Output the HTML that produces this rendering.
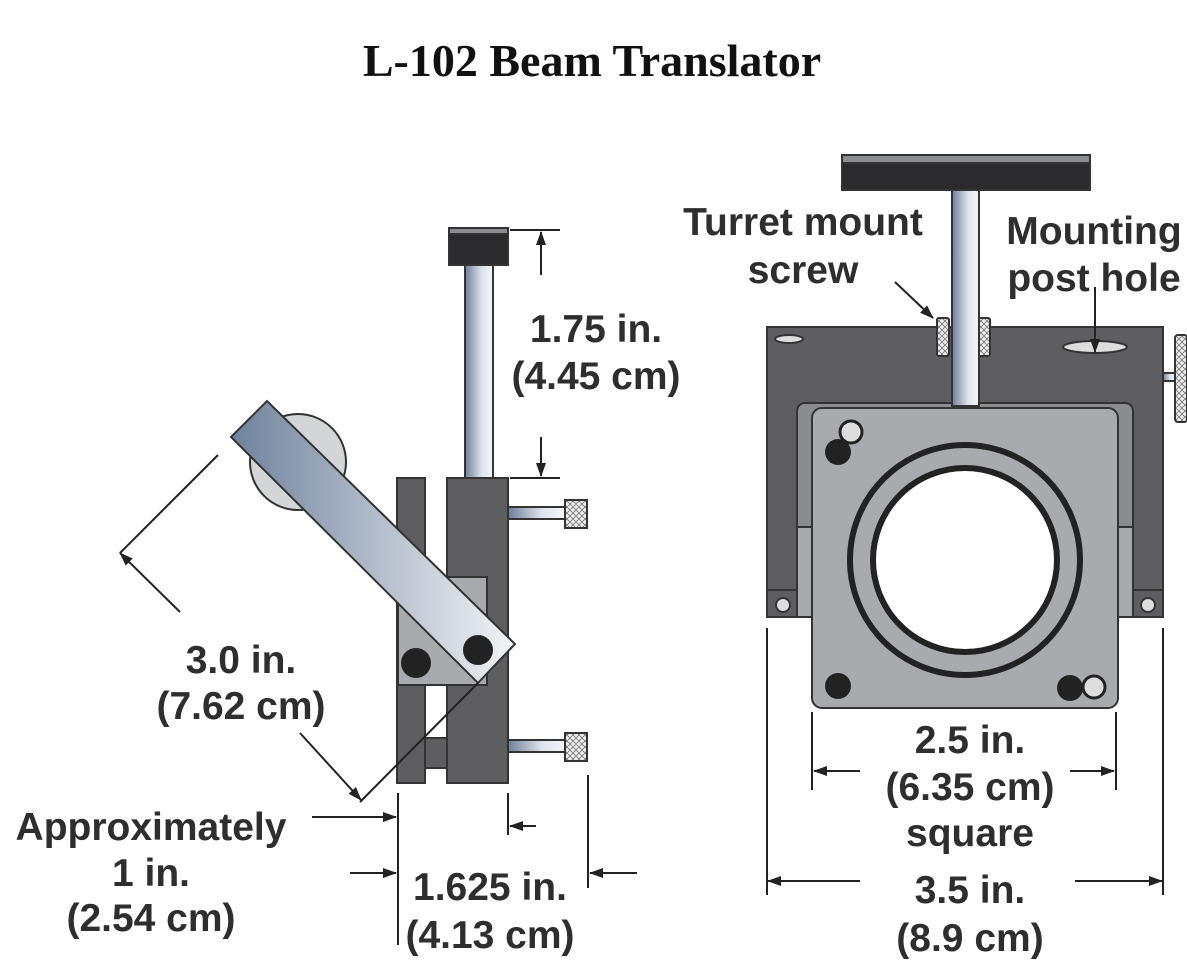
<!DOCTYPE html>
<html><head><meta charset="utf-8"><style>
html,body{margin:0;padding:0;background:#fff;}
svg{display:block;}
.t{font-family:"Liberation Sans",sans-serif;font-weight:bold;font-size:39px;fill:#2e2e2e;text-anchor:middle;}
</style></head><body>
<svg width="1187" height="974" viewBox="0 0 1187 974" xmlns="http://www.w3.org/2000/svg">
<defs>
<linearGradient id="post" x1="0" x2="1" y1="0" y2="0"><stop offset="0" stop-color="#6d7f9a"/><stop offset="0.6" stop-color="#dfe4ec"/><stop offset="1" stop-color="#f4f6f8"/></linearGradient>
<linearGradient id="arm" x1="0" x2="1" y1="0" y2="0"><stop offset="0" stop-color="#6f819c"/><stop offset="1" stop-color="#f2f4f7"/></linearGradient>
<pattern id="knurl" width="6" height="6" patternUnits="userSpaceOnUse"><rect width="6" height="6" fill="#eee"/><path d="M0 0L6 6M6 0L0 6" stroke="#777" stroke-width="0.8"/></pattern>
<marker id="ah" markerWidth="14" markerHeight="12" refX="13" refY="6" orient="auto" markerUnits="userSpaceOnUse"><path d="M0 1L14 6L0 11z" fill="#222"/></marker>
</defs>
<text x="592" y="76" style="font-family:'Liberation Serif',serif;font-weight:bold;font-size:46px;fill:#111;text-anchor:middle">L-102 Beam Translator</text>

<!-- LEFT DEVICE -->
<g stroke="#333" stroke-width="2">
<rect x="449" y="228" width="59" height="37" fill="#2b2b2d"/>
<rect x="449" y="228" width="59" height="6" fill="#8a8c90"/>
<rect x="465" y="265" width="28" height="213" fill="url(#post)"/>
<circle cx="298" cy="462" r="48" fill="#d4d5d7"/>
<rect x="397" y="478" width="28" height="305" fill="#5e5e61"/>
<rect x="425" y="738" width="22" height="30" fill="#5e5e61"/>
<rect x="447" y="478" width="61" height="305" fill="#5e5e61"/>
<rect x="508" y="507" width="57" height="12" fill="url(#post)"/>
<rect x="565" y="500" width="22" height="28" fill="url(#knurl)"/>
<rect x="508" y="740" width="57" height="12" fill="url(#post)"/>
<rect x="565" y="733" width="22" height="28" fill="url(#knurl)"/>
<rect x="398" y="577" width="89" height="108" fill="#a9aaad"/>
<polygon points="231,437 267,401 515,644 478,683" fill="url(#arm)"/>
</g>
<circle cx="416" cy="663" r="15" fill="#222"/>
<circle cx="478" cy="650" r="15" fill="#222"/>

<g stroke="#222" stroke-width="2" fill="none">
<line x1="510" y1="230" x2="560" y2="230"/>
<line x1="510" y1="478" x2="560" y2="478"/>
<line x1="541" y1="275" x2="541" y2="232" marker-end="url(#ah)"/>
<line x1="541" y1="437" x2="541" y2="476" marker-end="url(#ah)"/>
<line x1="218" y1="455" x2="120" y2="553"/>
<line x1="180" y1="612" x2="120" y2="553" marker-end="url(#ah)"/>
<line x1="300" y1="733" x2="361" y2="800" marker-end="url(#ah)"/>
<line x1="478" y1="683" x2="360" y2="802"/>
<line x1="398" y1="793" x2="398" y2="945"/>
<line x1="508" y1="793" x2="508" y2="835"/>
<line x1="588" y1="775" x2="588" y2="888"/>
<line x1="312" y1="817" x2="396" y2="817" marker-end="url(#ah)"/>
<line x1="350" y1="873" x2="396" y2="873" marker-end="url(#ah)"/>
<line x1="536" y1="826" x2="510" y2="826" marker-end="url(#ah)"/>
<line x1="637" y1="873" x2="590" y2="873" marker-end="url(#ah)"/>
</g>
<text class="t" x="596" y="342">1.75 in.</text>
<text class="t" x="596" y="389">(4.45 cm)</text>
<text class="t" x="241" y="673">3.0 in.</text>
<text class="t" x="241" y="719">(7.62 cm)</text>
<text class="t" x="151" y="840">Approximately</text>
<text class="t" x="151" y="886">1 in.</text>
<text class="t" x="151" y="931">(2.54 cm)</text>
<text class="t" x="490" y="900">1.625 in.</text>
<text class="t" x="490" y="948">(4.13 cm)</text>

<!-- RIGHT DEVICE -->
<g stroke="#333" stroke-width="2">
<rect x="842" y="155" width="248" height="35" fill="#2b2b2d"/>
<rect x="842" y="155" width="248" height="8" fill="#8a8c90"/>
<rect x="767" y="327" width="396" height="290" fill="#5e5e61"/>
<rect x="1163" y="373" width="12" height="8" fill="url(#post)"/>
<rect x="1175" y="335" width="12" height="87" rx="3" fill="url(#knurl)"/>
<rect x="937" y="318" width="12" height="38" rx="2" fill="url(#knurl)"/>
<rect x="978" y="318" width="12" height="38" rx="2" fill="url(#knurl)"/>
<ellipse cx="789" cy="339" rx="14" ry="4" fill="#ddd"/>
<ellipse cx="1095" cy="347" rx="32" ry="6" fill="#ddd"/>
<rect x="797" y="403" width="336" height="214" rx="8" fill="#8a8c90"/>
<rect x="797" y="527" width="15" height="90" fill="#a9aaad"/>
<rect x="1118" y="527" width="15" height="90" fill="#a9aaad"/>
<rect x="767" y="590" width="30" height="27" fill="#5e5e61"/>
<rect x="1133" y="590" width="30" height="27" fill="#5e5e61"/>
<rect x="952" y="190" width="27" height="216" fill="url(#post)"/>
<rect x="812" y="408" width="306" height="300" rx="10" fill="#a9aaad"/>
</g>
<circle cx="783" cy="605" r="7" fill="#ddd" stroke="#333" stroke-width="2"/>
<circle cx="1148" cy="605" r="7" fill="#ddd" stroke="#333" stroke-width="2"/>
<circle cx="965" cy="560" r="115" fill="#a9aaad" stroke="#222" stroke-width="6"/>
<circle cx="965" cy="560" r="92" fill="#fff" stroke="#222" stroke-width="6"/>
<circle cx="838" cy="452" r="13" fill="#222"/>
<circle cx="851" cy="432" r="11" fill="#ddd" stroke="#222" stroke-width="3"/>
<circle cx="838" cy="686" r="13" fill="#222"/>
<circle cx="1070" cy="688" r="13" fill="#222"/>
<circle cx="1094" cy="687" r="11" fill="#ddd" stroke="#222" stroke-width="3"/>

<g stroke="#222" stroke-width="2" fill="none">
<line x1="895" y1="282" x2="933" y2="318" marker-end="url(#ah)"/>
<line x1="1095" y1="287" x2="1095" y2="352" marker-end="url(#ah)"/>
<line x1="767" y1="628" x2="767" y2="895"/>
<line x1="1163" y1="628" x2="1163" y2="895"/>
<line x1="812" y1="712" x2="812" y2="790"/>
<line x1="1116" y1="712" x2="1116" y2="790"/>
<line x1="860" y1="771" x2="814" y2="771" marker-end="url(#ah)"/>
<line x1="1070" y1="771" x2="1114" y2="771" marker-end="url(#ah)"/>
<line x1="860" y1="881" x2="768" y2="881" marker-end="url(#ah)"/>
<line x1="1075" y1="881" x2="1162" y2="881" marker-end="url(#ah)"/>
</g>
<text class="t" x="803" y="235">Turret mount</text>
<text class="t" x="803" y="283">screw</text>
<text class="t" x="1094" y="244">Mounting</text>
<text class="t" x="1094" y="291">post hole</text>
<text class="t" x="970" y="753">2.5 in.</text>
<text class="t" x="970" y="800">(6.35 cm)</text>
<text class="t" x="970" y="846">square</text>
<text class="t" x="970" y="903">3.5 in.</text>
<text class="t" x="970" y="951">(8.9 cm)</text>
</svg>
</body></html>
